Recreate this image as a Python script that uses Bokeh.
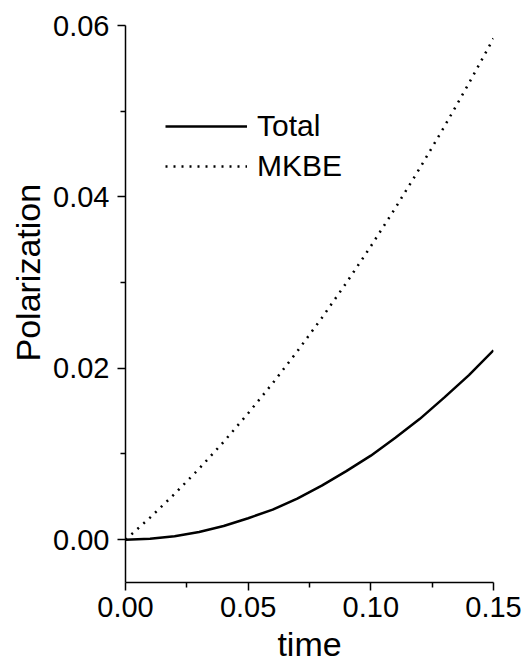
from bokeh.plotting import figure
from bokeh.models import (Range1d, FixedTicker, NumeralTickFormatter, Legend,
                          LegendItem, Title)
from bokeh.embed import file_html
from bokeh.resources import INLINE

time = [0.00, 0.01, 0.02, 0.03, 0.04, 0.05, 0.06, 0.07, 0.08,
        0.09, 0.10, 0.11, 0.12, 0.13, 0.14, 0.15]
total = [0.0000, 0.0001, 0.0004, 0.0009, 0.0016, 0.0025, 0.0035, 0.0048,
         0.0063, 0.0080, 0.0098, 0.0119, 0.0141, 0.0166, 0.0192, 0.0221]
mkbe = [0.0000, 0.00257, 0.00533, 0.00828, 0.01141, 0.01475, 0.01826,
        0.02197, 0.02587, 0.02996, 0.03424, 0.03871, 0.04337, 0.04822,
        0.05326, 0.05850]

x_ticks = [0.00, 0.05, 0.10, 0.15]
x_minor = [0.025, 0.075, 0.125]
y_ticks = [0.00, 0.02, 0.04, 0.06]
y_minor = [0.01, 0.03, 0.05]

FONT = "Liberation Sans"

p = figure(width=527, height=665, output_backend="svg", toolbar_location=None,
           x_range=Range1d(0, 0.15), y_range=Range1d(-0.005, 0.06),
           min_border_left=125, min_border_right=34, min_border_top=25,
           min_border_bottom=82)
p.outline_line_color = None
p.grid.visible = False
p.background_fill_color = "white"

r_total = p.line(time, total, line_color="black", line_width=2.5)
r_mkbe = p.line(time, mkbe, line_color="black", line_width=2.5,
                line_dash="2 6")

p.xaxis.ticker = FixedTicker(ticks=x_ticks, minor_ticks=x_minor)
p.yaxis.ticker = FixedTicker(ticks=y_ticks, minor_ticks=y_minor)
for ax in (p.xaxis, p.yaxis):
    ax.formatter = NumeralTickFormatter(format="0.00")
    ax.major_label_text_font = FONT
    ax.major_label_text_font_size = "29px"
    ax.major_label_text_color = "black"
    ax.axis_line_color = "black"
    ax.axis_line_width = 1.5
    ax.major_tick_line_color = "black"
    ax.major_tick_line_width = 1.5
    ax.minor_tick_line_color = "black"
    ax.minor_tick_line_width = 1.5
    ax.major_tick_in = 0
    ax.major_tick_out = 8
    ax.minor_tick_in = 0
    ax.minor_tick_out = 5
p.yaxis.major_label_standoff = 8
p.xaxis.major_label_standoff = 6

p.xaxis.axis_label = "time"
p.xaxis.axis_label_text_font = FONT
p.xaxis.axis_label_text_font_size = "34px"
p.xaxis.axis_label_text_font_style = "normal"
p.xaxis.axis_label_text_color = "black"
p.xaxis.axis_label_standoff = 5

p.add_layout(Title(text="Polarization", align="left", offset=221,
                   text_font=FONT, text_font_size="34px",
                   text_font_style="normal", text_color="black",
                   standoff=7), "left")

legend = Legend(items=[LegendItem(label="Total", renderers=[r_total]),
                       LegendItem(label="MKBE", renderers=[r_mkbe])],
                location=(40, 396), padding=0, margin=0, spacing=0,
                glyph_width=82, glyph_height=40, label_height=40,
                label_standoff=10, label_text_font=FONT,
                label_text_font_size="30px", label_text_color="black",
                border_line_alpha=0, background_fill_alpha=0)
p.add_layout(legend)

open("out.html", "w").write(file_html(p, INLINE))
